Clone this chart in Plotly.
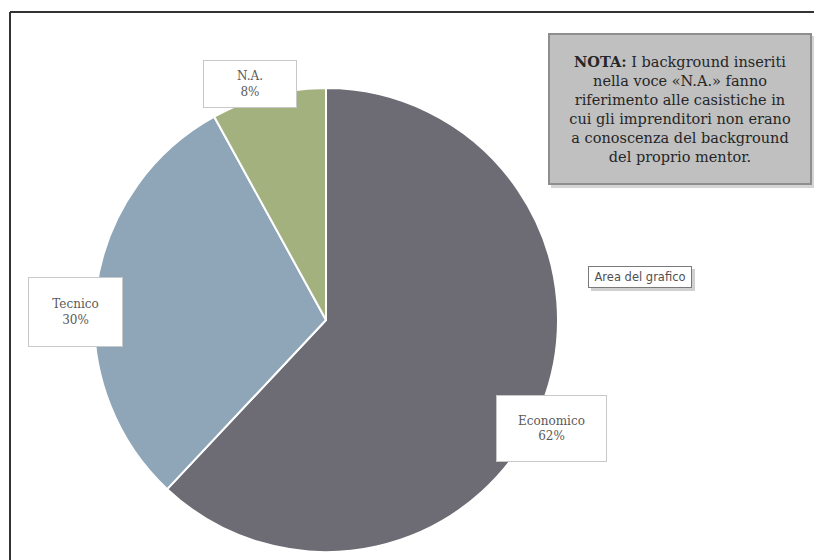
import plotly.graph_objects as go

# Mentor background breakdown
categories = ["Economico", "Tecnico", "N.A."]
shares = [62, 30, 8]
slice_colors = ["#6d6c74", "#8fa6b9", "#a3b17f"]

note_text = (
    "<b>NOTA:</b> I background inseriti<br>"
    "nella voce «N.A.» fanno<br>"
    "riferimento alle casistiche in<br>"
    "cui gli imprenditori non erano<br>"
    "a conoscenza del background<br>"
    "del proprio mentor."
)

W, H = 814, 560
SERIF = "DejaVu Serif, Liberation Serif, serif"


def px(x):
    return x / W


def py(y):
    return 1 - y / H


fig = go.Figure(
    go.Pie(
        labels=categories,
        values=shares,
        sort=False,
        direction="clockwise",
        rotation=0,
        marker=dict(colors=slice_colors, line=dict(color="white", width=2)),
        textinfo="none",
        hoverinfo="label+percent",
        domain=dict(x=[px(94), px(558)], y=[py(552), py(88)]),
        showlegend=False,
    )
)

# Data-label boxes: (centre x, centre y, width, height) in pixels
label_boxes = {
    "N.A.": (250, 84, 92, 46),
    "Tecnico": (75, 312, 93, 68),
    "Economico": (551, 428, 109, 65),
}

annotations = []
for cat, val in zip(categories, shares):
    cx, cy, bw, bh = label_boxes[cat]
    annotations.append(
        dict(
            x=px(cx), y=py(cy), xref="paper", yref="paper",
            xanchor="center", yanchor="middle",
            text=f"{cat}<br>{val}%",
            showarrow=False,
            width=bw, height=bh,
            align="center", valign="middle",
            bgcolor="white", bordercolor="#c8c8c8", borderwidth=1, borderpad=0,
            font=dict(family=SERIF, size=12, color="#595959"),
        )
    )

# Note box shadow
fig.add_shape(
    type="rect", xref="paper", yref="paper",
    x0=px(551), x1=px(815), y0=py(188), y1=py(36),
    fillcolor="#d4d4d4", line=dict(width=0), layer="below",
)

annotations.append(
    dict(
        x=px(680), y=py(109), xref="paper", yref="paper",
        xanchor="center", yanchor="middle",
        text=note_text, showarrow=False,
        width=260, height=148, align="center", valign="middle",
        bgcolor="#c0c0c0", bordercolor="#8e8e8e", borderwidth=2, borderpad=0,
        font=dict(family=SERIF, size=14.5, color="#262626"),
    )
)

# Chart-area tooltip
fig.add_shape(
    type="rect", xref="paper", yref="paper",
    x0=px(591), x1=px(695), y0=py(291), y1=py(269),
    fillcolor="#d0d0d0", line=dict(width=0), layer="below",
)
annotations.append(
    dict(
        x=px(640), y=py(277), xref="paper", yref="paper",
        xanchor="center", yanchor="middle",
        text="Area del grafico", showarrow=False,
        width=102, height=20, align="center", valign="middle",
        bgcolor="white", bordercolor="#7a7a7a", borderwidth=1, borderpad=0,
        font=dict(family="DejaVu Sans, sans-serif", size=11.5, color="#505050"),
    )
)

# Outer chart frame (top and left edges; the rest runs off the canvas)
fig.add_shape(
    type="line", xref="paper", yref="paper",
    x0=px(10), x1=1.0, y0=py(12), y1=py(12),
    line=dict(color="#333333", width=2),
)
fig.add_shape(
    type="line", xref="paper", yref="paper",
    x0=px(10), x1=px(10), y0=0.0, y1=py(12),
    line=dict(color="#333333", width=2),
)

fig.update_layout(
    width=W, height=H,
    margin=dict(l=0, r=0, t=0, b=0),
    paper_bgcolor="white", plot_bgcolor="white",
    annotations=annotations,
)

fig.write_html("out.html")
